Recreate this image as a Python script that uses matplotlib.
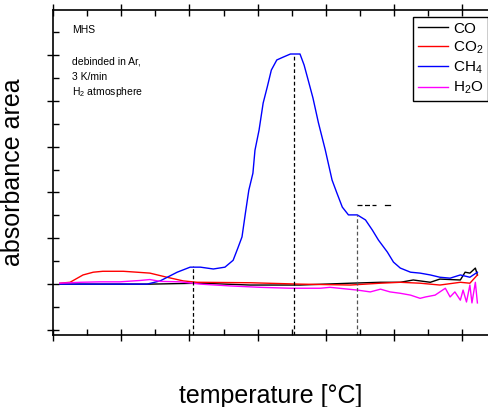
import numpy as np
import matplotlib
matplotlib.use('Agg')
import matplotlib.pyplot as plt

plt.rcParams['font.family'] = ['Liberation Sans', 'DejaVu Sans']
plt.rcParams['mathtext.fontset'] = 'custom'
plt.rcParams['mathtext.rm'] = 'Liberation Sans'
plt.rcParams['mathtext.it'] = 'Liberation Sans:italic'

# temperature (arb. scale, 100 per major tick) and absorbance area (1 per major tick)
t_ch4 = [10, 69, 138, 157, 182, 201, 216, 235, 252, 264, 271, 277, 282, 287, 293, 296,
         302, 308, 314, 320, 328, 337, 348, 362, 368, 374, 381, 389, 399, 409, 416, 424,
         433, 446, 458, 468, 477, 490, 499, 509, 524, 538, 553, 567, 582, 597, 611, 622]
a_ch4 = [0.0, 0.0, 0.0, 0.07, 0.26, 0.37, 0.37, 0.33, 0.37, 0.52, 0.79, 1.03, 1.55, 2.05, 2.42, 2.92,
         3.36, 3.95, 4.30, 4.67, 4.89, 4.95, 5.02, 5.02, 4.78, 4.45, 4.06, 3.52, 2.93, 2.27, 1.99, 1.68,
         1.51, 1.51, 1.40, 1.18, 0.96, 0.70, 0.48, 0.35, 0.26, 0.24, 0.20, 0.15, 0.13, 0.20, 0.15, 0.26]

t_co2 = [10, 25, 44, 59, 73, 103, 123, 142, 167, 191, 211, 289, 362, 436, 480, 509, 538, 567, 597, 611, 622]
a_co2 = [0.02, 0.04, 0.20, 0.26, 0.28, 0.28, 0.26, 0.24, 0.15, 0.07, 0.04, 0.03, 0.0, -0.02, 0.02, 0.04,
         0.02, -0.02, 0.04, 0.02, 0.20]

t_h2o = [10, 40, 69, 98, 128, 142, 157, 186, 216, 260, 304, 348, 392, 406, 446, 465, 480, 494, 509,
         524, 538, 546, 560, 575, 582, 589, 597, 601, 606, 611, 614, 619, 622]
a_h2o = [0.02, 0.04, 0.05, 0.05, 0.08, 0.10, 0.06, 0.05, 0.0, -0.04, -0.07, -0.09, -0.09, -0.07, -0.13,
         -0.17, -0.11, -0.17, -0.20, -0.24, -0.31, -0.28, -0.24, -0.09, -0.28, -0.17, -0.35, -0.13, -0.39,
         -0.02, -0.41, 0.04, -0.41]

t_co = [10, 142, 216, 289, 362, 436, 480, 509, 528, 553, 567, 597, 604, 611, 619, 622]
a_co = [0.0, 0.0, 0.02, -0.02, -0.02, 0.02, 0.04, 0.04, 0.09, 0.04, 0.11, 0.09, 0.26, 0.24, 0.35, 0.20]

# marked peak temperatures and their heights
peak_t = [205, 353, 446]
peak_a = [0.39, 5.02, 1.51]
peak_c = ['k', 'k', '#555555']

fig = plt.figure(figsize=(4.89, 4.07), dpi=100)
ax = fig.add_axes([53 / 489, 72 / 407, 436 / 489, 325 / 407])

ax.plot(t_co, a_co, color='k', lw=1.0, label='CO')
ax.plot(t_co2, a_co2, color='#ff0000', lw=1.0, label='CO$_2$')
ax.plot(t_ch4, a_ch4, color='#0000ff', lw=1.0, label='CH$_4$')
ax.plot(t_h2o, a_h2o, color='#ff00ff', lw=1.0, label='H$_2$O')

ymin, ymax = -1.11, 5.98
for t, a, c in zip(peak_t, peak_a, peak_c):
    ax.plot([t, t], [ymin, a], color=c, lw=0.9, ls=(0, (3, 2)))
ax.plot([446, 473], [1.72, 1.72], color='k', lw=0.9, ls=(0, (4, 2)))
ax.plot([487, 494], [1.72, 1.72], color='k', lw=0.9)

ax.set_xlim(0, 639)
ax.set_ylim(ymin, ymax)
ax.set_xticks([100 * i for i in range(7)])
ax.set_xticks([50 + 100 * i for i in range(6)], minor=True)
ax.set_yticks(range(-1, 6))
ax.set_yticks([-0.5 + i for i in range(7)], minor=True)
ax.tick_params(which='major', direction='inout', length=9, width=1.0,
               top=True, labelbottom=False, labelleft=False)
ax.tick_params(which='minor', direction='in', length=4, width=1.0, top=True)
ax.tick_params(axis='x', which='both', top=True)
ax.spines['right'].set_visible(False)
for s in ['left', 'top', 'bottom']:
    ax.spines[s].set_linewidth(1.2)

ax.set_xlabel('temperature [°C]', fontsize=18)
ax.xaxis.set_label_coords(0.5, -0.15)
ax.set_ylabel('absorbance area', fontsize=18)
ax.yaxis.set_label_coords(-0.065, 0.5)

leg = ax.legend(loc='upper right', bbox_to_anchor=(0.998, 0.978), borderaxespad=0,
                fancybox=False, framealpha=1, edgecolor='k', fontsize=11,
                handlelength=2.0, handletextpad=0.3, labelspacing=0.25, borderpad=0.3)
leg.get_frame().set_linewidth(1.0)

fig.text(72 / 489, 1 - 30 / 407, 'MHS', fontsize=7.5, va='center')
fig.text(72 / 489, 1 - 62 / 407, 'debinded in Ar,', fontsize=7.5, va='center')
fig.text(72 / 489, 1 - 77 / 407, '3 K/min', fontsize=7.5, va='center')
fig.text(72 / 489, 1 - 92 / 407, 'H$_2$ atmosphere', fontsize=7.5, va='center')

fig.savefig('out.png', dpi=100)
